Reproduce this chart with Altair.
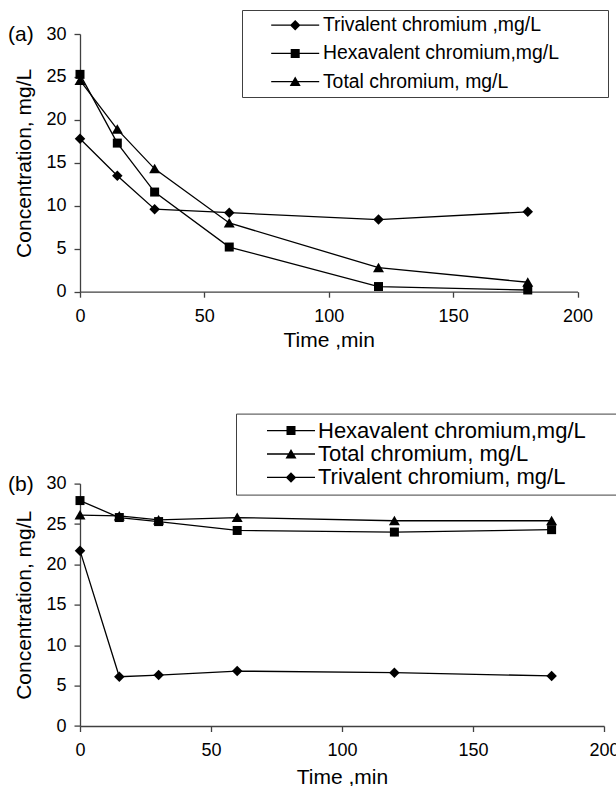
import altair as alt
import pandas as pd

# Sampling times, min
time_min = [0, 15, 30, 60, 120, 180]

# Panel (a) concentrations, mg/L
a_trivalent = [17.8, 13.5, 9.6, 9.2, 8.4, 9.3]
a_hexavalent = [25.3, 17.3, 11.6, 5.2, 0.6, 0.2]
a_total = [24.6, 18.9, 14.3, 8.0, 2.8, 1.1]

# Panel (b) concentrations, mg/L
b_hexavalent = [27.9, 25.8, 25.3, 24.2, 24.0, 24.3]
b_total = [26.1, 26.0, 25.5, 25.8, 25.4, 25.4]
b_trivalent = [21.7, 6.1, 6.3, 6.8, 6.6, 6.2]

x_ticks = [0, 50, 100, 150, 200]
y_ticks = [0, 5, 10, 15, 20, 25, 30]

a_labels = ["Trivalent chromium ,mg/L", "Hexavalent chromium,mg/L", "Total chromium, mg/L"]
b_labels = ["Hexavalent chromium,mg/L", "Total chromium, mg/L", "Trivalent chromium, mg/L"]

FONT = "Liberation Sans"
AXIS_GREY = "#404040"

# Marker outlines in symbol units (scaled by sqrt(size)/2)
DIAMOND = "M0,-1.05L1.05,0L0,1.05L-1.05,0Z"
SQUARE = "M-0.9,-0.9H0.9V0.9H-0.9Z"
TRIANGLE = "M0,-1L1.1,0.9H-1.1Z"
# thin bar drawn through the key marker, standing in for the series line
STUB = "M-4.8,-0.13H4.8V0.13H-4.8Z"


def long_table(series_values, labels):
    rows = []
    for label, values in zip(labels, series_values):
        for t, c in zip(time_min, values):
            rows.append({"t": t, "c": c, "series": label})
    return pd.DataFrame(rows)


def panel(df, labels, shapes, tag, width, height, legend_x, legend_y,
          legend_font, legend_pad, row_pad, trailing, label_offset, title_pad):
    x_axis = alt.Axis(
        values=x_ticks, title="Time ,min", grid=False, labelFlush=False,
        tickSize=5.5, tickColor=AXIS_GREY, domainColor=AXIS_GREY,
        domainWidth=1.3, tickWidth=1.3, labelFontSize=18, labelPadding=10,
        labelColor="black", titleFontSize=21, titleFontWeight="normal",
        titleColor="black", titlePadding=title_pad,
    )
    y_axis = alt.Axis(
        values=y_ticks, title="Concentration, mg/L", grid=False,
        labelFlush=False, tickSize=6, tickColor=AXIS_GREY,
        domainColor=AXIS_GREY, domainWidth=1.3, tickWidth=1.3,
        labelFontSize=18, labelPadding=8, labelColor="black",
        titleFontSize=21, titleFontWeight="normal", titleColor="black",
        titlePadding=11,
    )
    base = alt.Chart(df).encode(
        x=alt.X("t:Q", scale=alt.Scale(domain=[0, 200], nice=False), axis=x_axis),
        y=alt.Y("c:Q", scale=alt.Scale(domain=[0, 30], nice=False), axis=y_axis),
    )
    lines = base.mark_line(color="black", strokeWidth=1.3).encode(
        detail="series:N"
    )
    points = base.mark_point(filled=True, color="black", opacity=1, size=100).encode(
        shape=alt.Shape("series:N", scale=alt.Scale(domain=labels, range=shapes),
                        legend=None)
    )
    key_shapes = [STUB + s for s in shapes]
    # non-breaking spaces widen the key box to the right; the closing
    # zero-width space keeps them from being trimmed away
    pad_expr = "datum.label + '" + "\u00a0" * trailing + "\u200b'"
    key = base.transform_filter("datum.t < 0").mark_point(
        filled=True, color="black", opacity=1, size=100
    ).encode(
        shape=alt.Shape(
            "series:N",
            scale=alt.Scale(domain=labels, range=key_shapes),
            legend=alt.Legend(
                title=None, orient="none", legendX=legend_x, legendY=legend_y,
                padding=legend_pad, strokeColor=AXIS_GREY, symbolSize=100,
                symbolFillColor="black", symbolOffset=38,
                labelOffset=label_offset, labelFont=FONT,
                labelFontSize=legend_font, labelColor="black",
                labelLimit=800, rowPadding=row_pad, labelExpr=pad_expr,
            ),
        )
    )
    return alt.layer(lines, points, key).resolve_scale(shape="independent").properties(
        width=width, height=height,
        title=alt.TitleParams(
            text=tag, anchor="start", frame="group", orient="top", offset=0,
            dx=-72, dy=28.7 - legend_y, fontSize=21, fontWeight="normal",
            font=FONT, color="black", baseline="alphabetic",
        ),
    )


df_a = long_table([a_trivalent, a_hexavalent, a_total], a_labels)
df_b = long_table([b_hexavalent, b_total, b_trivalent], b_labels)

panel_a = panel(df_a, a_labels, [DIAMOND, SQUARE, TRIANGLE], "(a)",
                497.5, 257.7, 162, -24, 19.4, 5.5, 7.2, 8, 18, 4)
panel_b = panel(df_b, b_labels, [SQUARE, TRIANGLE, DIAMOND], "(b)",
                524, 242.4, 156, -70, 22, 6, 1.4, 8, 16, 7)

chart = alt.vconcat(panel_a, panel_b, spacing=191.6, bounds="flush").resolve_scale(
    shape="independent"
).properties(
    padding={"left": 80, "top": 34, "right": 536, "bottom": 752},
    autosize=alt.AutoSizeParams(type="none"),
).configure(font=FONT).configure_view(stroke=None)

chart.save("out.html", embed_options={"renderer": "svg", "actions": False})
